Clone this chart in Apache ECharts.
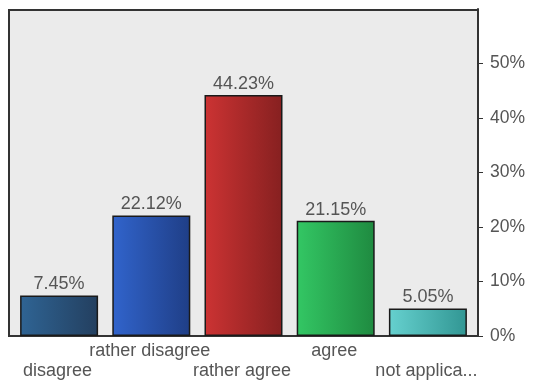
<!DOCTYPE html>
<html><head><meta charset="utf-8">
<script src="https://cdn.jsdelivr.net/npm/echarts@6/dist/echarts.min.js"></script>
<style>html,body{margin:0;padding:0;background:#fff}#c{width:534px;height:385px}</style>
</head><body><div id="c"></div>
<script>
var categories = ['disagree', 'rather disagree', 'rather agree', 'agree', 'not applica...'];
var values = [7.45, 22.12, 44.23, 21.15, 5.05];
var tickValues = [0, 10, 20, 30, 40, 50];
var colorStops = [
  ['#2f6494', '#233f5f'],
  ['#3164cc', '#1f3e86'],
  ['#cc3333', '#862020'],
  ['#33c764', '#1f8a40'],
  ['#66d1cf', '#319693']
];
var chart = echarts.init(document.getElementById('c'), null, {renderer: 'canvas'});
var font = 'Liberation Sans';
chart.setOption({
  animation: false,
  graphic: [{
    type: 'rect', z: -10, silent: true,
    shape: {x: 9, y: 10, width: 469, height: 326},
    style: {fill: '#ebebeb', stroke: '#333', lineWidth: 2}
  }],
  grid: {left: 13, right: 60, top: 9, bottom: 49, containLabel: false},
  xAxis: {
    type: 'category', data: categories,
    axisLine: {show: true, lineStyle: {color: '#333', width: 2}},
    axisTick: {show: false},
    axisLabel: {
      interval: 0, color: '#555', fontFamily: font, fontSize: 18, margin: 5, lineHeight: 20,
      padding: [0, 3, 0, 0],
      formatter: function (v, i) { return i % 2 === 0 ? '\n' + v : v; }
    }
  },
  yAxis: {
    type: 'value', position: 'right', offset: 4, min: 0, max: 60, interval: 10,
    axisLine: {show: true, lineStyle: {color: '#333', width: 2}},
    axisTick: {show: true, length: 5, lineStyle: {color: '#333'}},
    splitLine: {show: false},
    axisLabel: {
      color: '#555', fontFamily: font, fontSize: 17.5, margin: 12, showMaxLabel: false,
      formatter: function (v) { return tickValues.indexOf(v) >= 0 ? v + '%' : ''; }
    }
  },
  series: [{
    type: 'bar', barWidth: 78,
    data: values.map(function (v, i) {
      return {
        value: v,
        itemStyle: {
          color: new echarts.graphic.LinearGradient(0, 0, 1, 0, [
            {offset: 0, color: colorStops[i][0]}, {offset: 1, color: colorStops[i][1]}
          ]),
          borderColor: '#1a1a1a', borderWidth: 1.5
        }
      };
    }),
    label: {
      show: true, position: 'top', distance: 2, color: '#555', fontFamily: font, fontSize: 18,
      formatter: function (p) { return p.value.toFixed(2) + '%'; }
    }
  }]
});
</script></body></html>
